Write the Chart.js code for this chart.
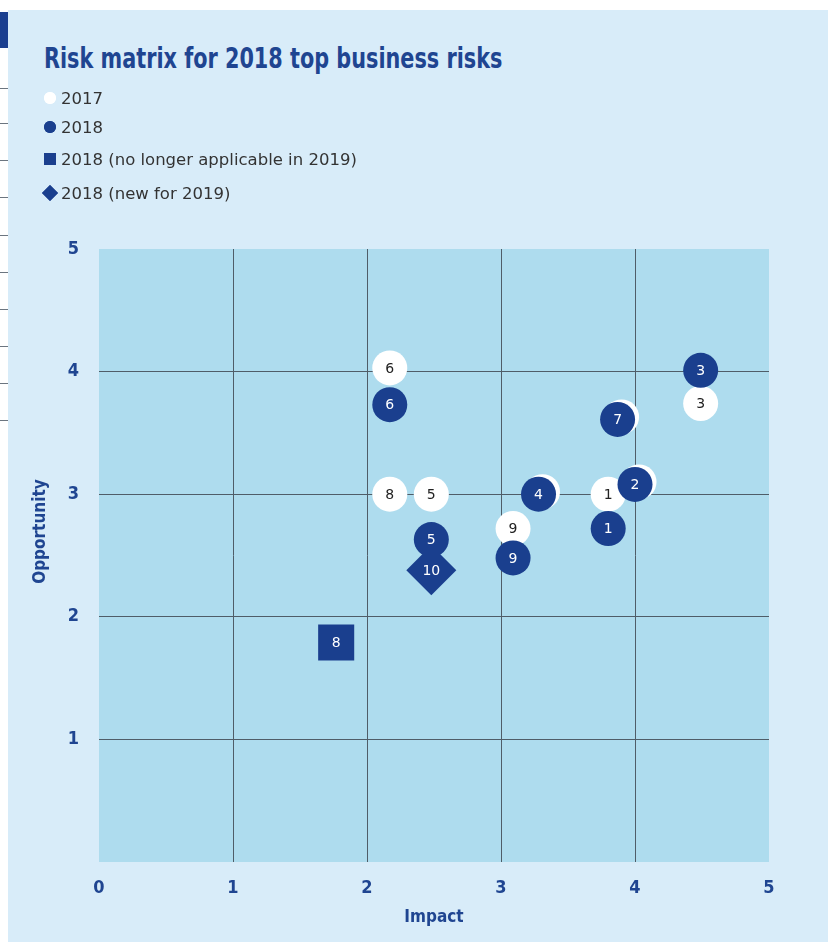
<!DOCTYPE html>
<html>
<head>
<meta charset="utf-8">
<script src="https://cdn.jsdelivr.net/npm/chart.js@4/dist/chart.umd.min.js"></script>
<style>
  html, body { margin: 0; padding: 0; background: #ffffff; }
  body { width: 828px; height: 942px; position: relative; overflow: hidden; }
  #panel { position: absolute; left: 8px; top: 10px; width: 820px; height: 932px; background: #d8ecf9; }
  #leftBar { position: absolute; left: 0; top: 12px; width: 8px; height: 36px; background: #1b3f8f; }
  .edgeLine { position: absolute; left: 0; width: 8px; height: 1px; background: #6b7580; }
  #title { position: absolute; left: 44px; top: 42px; margin: 0;
    font-family: "Liberation Sans Narrow", "DejaVu Sans Condensed", sans-serif; font-stretch: condensed;
    font-weight: bold; font-size: 28px; color: #1f4591; white-space: nowrap;
    transform: scaleX(0.825); transform-origin: left center; }
  #legend { position: absolute; left: 41px; top: 86px; font-family: "DejaVu Sans", Verdana, sans-serif;
    font-size: 16.5px; color: #333; }
  .legendRow { display: flex; align-items: center; height: 24px; }
  .legendRow canvas { margin-right: 2px; }
  #chart { position: absolute; left: 0; top: 0; }
</style>
</head>
<body>
<div id="panel"></div>
<div id="leftBar"></div>
<h1 id="title">Risk matrix for 2018 top business risks</h1>
<div id="legend"></div>
<canvas id="chart" width="828" height="942"></canvas>
<script>
// 2017 positions (white circles)
const labels2017 = ['1', '2', '3', '4', '5', '6', '7', '8', '9'];
const impact2017 = [3.80, 4.03, 4.49, 3.31, 2.48, 2.17, 3.90, 2.17, 3.09];
const opportunity2017 = [3.00, 3.10, 3.74, 3.02, 3.00, 4.03, 3.63, 3.00, 2.72];

// 2018 positions (blue circles)
const labels2018 = ['1', '2', '3', '4', '5', '6', '7', '9'];
const impact2018 = [3.80, 4.00, 4.49, 3.28, 2.48, 2.17, 3.87, 3.09];
const opportunity2018 = [2.72, 3.08, 4.01, 3.00, 2.63, 3.73, 3.61, 2.48];

// 2018, no longer applicable in 2019
const labelsDropped = ['8'];
const impactDropped = [1.77];
const opportunityDropped = [1.79];

// 2018, new for 2019
const labelsNew = ['10'];
const impactNew = [2.48];
const opportunityNew = [2.38];

const axisTicks = [0, 1, 2, 3, 4, 5];

const BLUE = '#1a3f8e';
const TICK_BLUE = '#1f4591';
const condensed = '"Liberation Sans Narrow", "DejaVu Sans Condensed", sans-serif';

const leftLines = [88, 123, 160, 197, 235, 272, 309, 346, 383, 420];
leftLines.forEach(y => {
  const d = document.createElement('div');
  d.className = 'edgeLine';
  d.style.top = y + 'px';
  document.body.appendChild(d);
});

function toPoints(xs, ys) {
  return xs.map((x, i) => ({ x, y: ys[i] }));
}

const datasets = [
  {
    label: '2017',
    data: toPoints(impact2017, opportunity2017),
    pointText: labels2017,
    textColor: '#222',
    pointStyle: 'circle',
    pointRadius: 17.5,
    pointHoverRadius: 17.5,
    backgroundColor: '#ffffff',
    borderWidth: 0,
    order: 4,
    legendSize: 6,
    rowGap: 5
  },
  {
    label: '2018',
    data: toPoints(impact2018, opportunity2018),
    pointText: labels2018,
    textColor: '#ffffff',
    pointStyle: 'circle',
    pointRadius: 17.5,
    pointHoverRadius: 17.5,
    backgroundColor: BLUE,
    borderWidth: 0,
    order: 3,
    legendSize: 6,
    rowGap: 8
  },
  {
    label: '2018 (no longer applicable in 2019)',
    data: toPoints(impactDropped, opportunityDropped),
    pointText: labelsDropped,
    textColor: '#ffffff',
    pointStyle: 'rect',
    pointRadius: 25.5,
    pointHoverRadius: 25.5,
    backgroundColor: BLUE,
    borderWidth: 0,
    order: 2,
    legendSize: 8.5,
    rowGap: 10
  },
  {
    label: '2018 (new for 2019)',
    data: toPoints(impactNew, opportunityNew),
    pointText: labelsNew,
    textColor: '#ffffff',
    pointStyle: 'rectRot',
    pointRadius: 25,
    pointHoverRadius: 25,
    backgroundColor: BLUE,
    borderWidth: 0,
    order: 1,
    legendSize: 8,
    rowGap: 0
  }
];

// legend built from the datasets, one row each
const legendBox = document.getElementById('legend');
datasets.forEach(ds => {
  const row = document.createElement('div');
  row.className = 'legendRow';
  row.style.marginBottom = ds.rowGap + 'px';
  const c = document.createElement('canvas');
  c.width = 18;
  c.height = 18;
  const cctx = c.getContext('2d');
  cctx.fillStyle = ds.backgroundColor;
  Chart.helpers.drawPoint(cctx, { pointStyle: ds.pointStyle, radius: ds.legendSize, rotation: 0, borderWidth: 0 }, 9, 9);
  cctx.fill();
  row.appendChild(c);
  const t = document.createElement('span');
  t.textContent = ds.label;
  row.appendChild(t);
  legendBox.appendChild(row);
});

const plotBackground = {
  id: 'plotBackground',
  beforeDraw(chart) {
    const { ctx, chartArea } = chart;
    ctx.save();
    ctx.fillStyle = '#aedcee';
    ctx.fillRect(chartArea.left, chartArea.top, chartArea.width, chartArea.height);
    ctx.restore();
  }
};

const pointLabels = {
  id: 'pointLabels',
  afterDatasetDraw(chart, args) {
    const ds = chart.data.datasets[args.index];
    const ctx = chart.ctx;
    ctx.save();
    ctx.font = '14px "DejaVu Sans", Verdana, sans-serif';
    ctx.textAlign = 'center';
    ctx.textBaseline = 'middle';
    ctx.fillStyle = ds.textColor;
    args.meta.data.forEach((pt, j) => {
      ctx.fillText(ds.pointText[j], pt.x, pt.y + 1);
    });
    ctx.restore();
  }
};

function gridColor(c) {
  return (c.tick.value === 0 || c.tick.value === 5) ? 'rgba(0,0,0,0)' : '#4f5d68';
}

new Chart(document.getElementById('chart'), {
  type: 'scatter',
  data: { datasets },
  options: {
    responsive: false,
    devicePixelRatio: 1,
    animation: false,
    layout: { padding: { left: 25, right: 59, top: 249, bottom: 10 } },
    plugins: {
      legend: { display: false },
      tooltip: { enabled: false }
    },
    scales: {
      x: {
        type: 'linear',
        min: 0,
        max: 5,
        afterBuildTicks: scale => { scale.ticks = axisTicks.map(v => ({ value: v })); },
        afterFit: scale => { scale.height = 70; },
        border: { display: false },
        grid: { color: gridColor, lineWidth: 1, drawTicks: false },
        ticks: {
          padding: 16,
          color: TICK_BLUE,
          font: { family: condensed, weight: 'bold', size: 18 }
        },
        title: {
          display: true,
          text: 'Impact',
          color: TICK_BLUE,
          padding: { top: 6 },
          font: { family: condensed, weight: 'bold', size: 17 }
        }
      },
      y: {
        type: 'linear',
        min: 0,
        max: 5,
        afterBuildTicks: scale => { scale.ticks = axisTicks.map(v => ({ value: v })); },
        afterFit: scale => { scale.width = 74; },
        border: { display: false },
        grid: { color: gridColor, lineWidth: 1, drawTicks: false },
        ticks: {
          padding: 20,
          color: TICK_BLUE,
          font: { family: condensed, weight: 'bold', size: 18 },
          callback: v => (v === 0 ? '' : v)
        },
        title: {
          display: true,
          // leading spaces lift the rotated label to where the original sits
          text: '         Opportunity',
          color: TICK_BLUE,
          padding: { top: 5 },
          font: { family: condensed, weight: 'bold', size: 17 }
        }
      }
    }
  },
  plugins: [plotBackground, pointLabels]
});
</script>
</body>
</html>
